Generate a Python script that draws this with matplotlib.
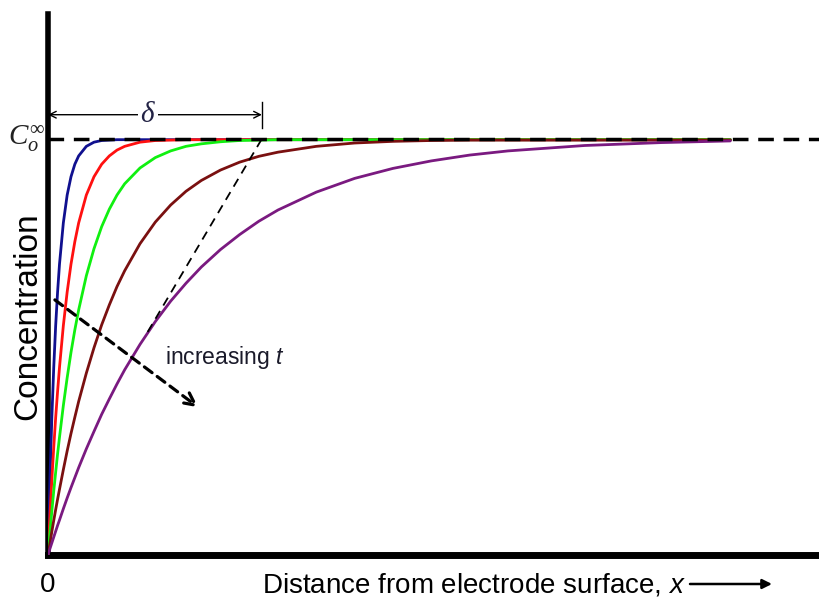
import matplotlib
matplotlib.use("Agg")
import matplotlib.pyplot as plt

plt.rcParams['font.family'] = ['Liberation Sans', 'DejaVu Sans']
plt.rcParams['mathtext.fontset'] = 'custom'
plt.rcParams['mathtext.rm'] = 'Liberation Serif'
plt.rcParams['mathtext.it'] = 'Liberation Serif:italic'
plt.rcParams['mathtext.sf'] = 'Liberation Sans:italic'

# distance grid (arbitrary units, C infinity = 1)
x = [0, 0.025, 0.05, 0.075, 0.1, 0.125, 0.15, 0.2, 0.25, 0.3, 0.35, 0.4, 0.5, 0.6,
     0.7, 0.8, 0.9, 1.0, 1.2, 1.4, 1.6, 1.8, 2.0, 2.25, 2.5, 2.75, 3.0, 3.5, 4.0,
     4.5, 5.0, 5.5, 6.0, 7.0, 8.0, 8.9]

# concentration profiles, shortest time first
c_blue = [0, 0.181, 0.330, 0.451, 0.551, 0.632, 0.699, 0.798, 0.865, 0.909, 0.939, 0.959,
          0.982, 0.992, 0.996, 0.997, 0.998, 0.998, 0.998, 0.998, 0.998, 0.998, 0.998,
          0.998, 0.998, 0.998, 0.998, 0.998, 0.998, 0.998, 0.998, 0.998, 0.998, 0.998,
          0.998, 0.998]
c_red = [0, 0.095, 0.181, 0.259, 0.330, 0.393, 0.451, 0.551, 0.632, 0.699, 0.753, 0.798,
         0.865, 0.909, 0.939, 0.959, 0.973, 0.982, 0.992, 0.996, 0.997, 0.998, 0.998,
         0.998, 0.998, 0.998, 0.998, 0.998, 0.998, 0.998, 0.998, 0.998, 0.998, 0.998,
         0.998, 0.998]
c_green = [0, 0.054, 0.105, 0.154, 0.199, 0.243, 0.283, 0.359, 0.426, 0.487, 0.541, 0.589,
           0.671, 0.736, 0.789, 0.831, 0.865, 0.892, 0.930, 0.955, 0.971, 0.982, 0.988,
           0.993, 0.996, 0.997, 0.998, 0.998, 0.998, 0.998, 0.998, 0.998, 0.998, 0.998,
           0.998, 0.998]
c_brown = [0, 0.028, 0.056, 0.083, 0.109, 0.134, 0.158, 0.205, 0.250, 0.292, 0.331, 0.369,
           0.437, 0.498, 0.553, 0.601, 0.645, 0.683, 0.748, 0.800, 0.841, 0.874, 0.900,
           0.925, 0.944, 0.958, 0.968, 0.982, 0.990, 0.994, 0.996, 0.997, 0.997, 0.997,
           0.997, 0.997]
c_purple = [0, 0.015, 0.029, 0.043, 0.057, 0.071, 0.084, 0.111, 0.137, 0.162, 0.186, 0.210,
            0.255, 0.297, 0.338, 0.375, 0.411, 0.445, 0.506, 0.561, 0.610, 0.653, 0.692,
            0.734, 0.770, 0.802, 0.829, 0.872, 0.905, 0.929, 0.947, 0.961, 0.971, 0.984,
            0.991, 0.995]

profiles = [c_blue, c_red, c_green, c_brown, c_purple]
colors = ['#10108f', '#ff1010', '#10f010', '#7a1010', '#7a1a80']

# annotation geometry in data units
c_inf = 1.0
delta_x = 2.79
tangent_x = [1.30, 2.79]
tangent_y = [0.536, 1.0]
arrow_start = (0.09, 0.613)
arrow_end = (1.96, 0.355)

fig = plt.figure(figsize=(8.2, 6.0), dpi=100)
ax = fig.add_axes([48 / 820, 45 / 600, 1 - 48 / 820, 541 / 600])
ax.set_xlim(0, 10.07)
ax.set_ylim(0, 1.30)

for c, col in zip(profiles, colors):
    ax.plot(x, c, color=col, lw=2.0, solid_capstyle='round',
            solid_joinstyle='round', zorder=3)

# bulk concentration line
ax.axhline(c_inf, color='black', lw=2.5, ls=(0, (4.5, 2.8)), zorder=4)

# tangent line defining delta
ax.plot(tangent_x, tangent_y, color='black', lw=1.3, ls=(0, (5, 3.5)), zorder=4)

# delta marker
ax.plot([delta_x, delta_x], [1.026, 1.088], color='black', lw=1.0)
ax.annotate('', xy=(0, 1.058), xytext=(delta_x, 1.058),
            arrowprops=dict(arrowstyle='<->', color='black', lw=1.0,
                            shrinkA=0, shrinkB=0, mutation_scale=12))
ax.text(1.31, 1.06, r'$\delta$', fontsize=21, ha='center', va='center',
        color='#222244', bbox=dict(fc='white', ec='none', pad=1.5), zorder=5)

# C infinity label
fig.text(8 / 820, (600 - 139) / 600, r'$C_o^{\infty}$', fontsize=21, ha='left',
         va='center', color='#222222')

# increasing t arrow
ax.annotate('', xy=arrow_end, xytext=arrow_start,
            arrowprops=dict(arrowstyle='->', color='black', lw=2.3,
                            ls=(0, (3, 2)), shrinkA=0, shrinkB=0, mutation_scale=22))
ax.text(1.53, 0.475, 'increasing $\\mathsf{t}$', fontsize=16.5, ha='left', va='center',
        color='#1a1a2a')

for s in ['top', 'right']:
    ax.spines[s].set_visible(False)
ax.spines['left'].set_linewidth(4)
ax.spines['bottom'].set_linewidth(5)
ax.set_xticks([])
ax.set_yticks([])

fig.text(28 / 820, (600 - 316) / 600, 'Concentration', fontsize=24, rotation=90,
         ha='center', va='center')
fig.text(48 / 820, 15 / 600, '0', fontsize=20, ha='center', va='center')
fig.text(262 / 820, 15 / 600, 'Distance from electrode surface, $\\mathsf{x}$', fontsize=20,
         ha='left', va='center')
ax.annotate('', xy=(772, 16), xytext=(690, 16), xycoords='figure pixels',
            textcoords='figure pixels',
            arrowprops=dict(arrowstyle='-|>', color='black', lw=1.8,
                            shrinkA=0, shrinkB=0, mutation_scale=14))

fig.savefig('out.png', dpi=100, facecolor='white')
